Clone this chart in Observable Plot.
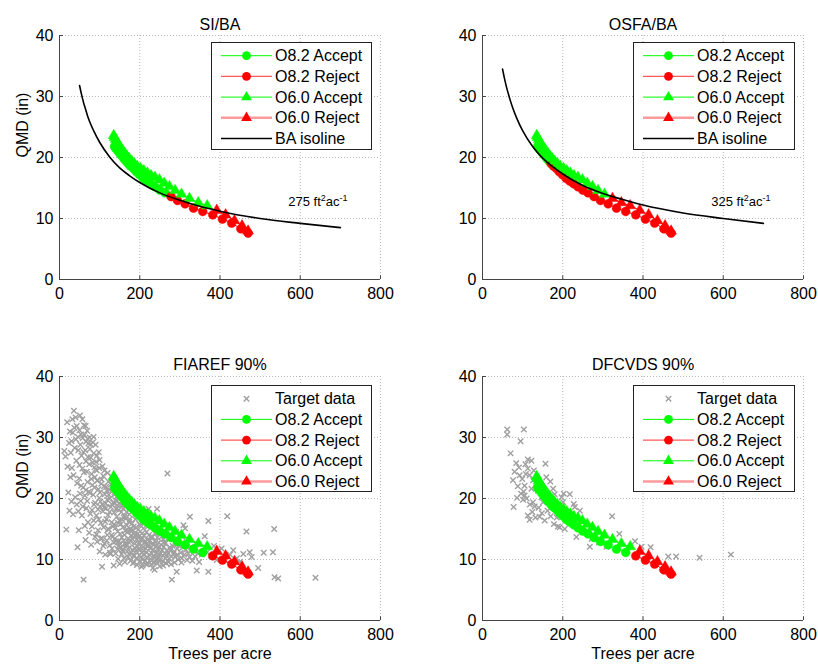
<!DOCTYPE html>
<html><head><meta charset="utf-8">
<script src="https://cdn.jsdelivr.net/npm/d3@7"></script>
<script src="https://cdn.jsdelivr.net/npm/@observablehq/plot@0.6"></script>
<style>
body{margin:0;background:#fff;}
#wrap{position:relative;width:818px;height:669px;background:#fff;font-family:"Liberation Sans",Arial,Helvetica,sans-serif;overflow:hidden;}
.panel{position:absolute;}
.legend{position:absolute;overflow:visible;}
</style></head><body><div id="wrap"></div>
<script>
// ---------- data ----------
const xTicks = [0, 200, 400, 600, 800];
const yTicks = [0, 10, 20, 30, 40];
const panelTitles = ["SI/BA", "OSFA/BA", "FIAREF 90%", "DFCVDS 90%"];
const xLabel = "Trees per acre";
const yLabel = "QMD (in)";

// O8.2 trajectory (circles)
const o82TPA = [137,140,143,147,151,155,160,165,171,177,184,191,199,208,217,227,238,250,263,278,294,313,334,357,382,406,429,452,470];
const o82QMD = [21.8,21.55,21.3,20.96,20.62,20.29,19.87,19.45,19.0,18.6,18.2,17.7,17.2,16.6,16.15,15.7,15.2,14.65,14.2,13.6,12.95,12.4,11.7,11.15,10.6,9.9,9.25,8.3,7.6];
// O6.0 trajectory (triangles)
const o60TPA = [135,137,140,143,146,150,154,158,163,168,174,180,187,194,202,210,219,228,238,249,261,274,288,304,324,346,368,392,414,436,455,470];
const o60QMD = [23.6,23.3,22.95,22.6,22.25,21.85,21.45,21.1,20.65,20.25,19.8,19.4,18.95,18.55,18.2,17.85,17.45,17.05,16.75,16.35,15.8,15.25,14.6,14.0,13.3,12.6,12.1,11.35,10.6,9.65,8.8,7.95];
// last accepted TPA per panel
const o82LastAccept = [263, 165, 357, 357];
const o60LastAccept = [368, 304, 368, 368];

// BA isolines (top panels)
const isoTPA = [50,55,60,65,70,75,85,100,125,150,175,200,250,300,350,400,500,600,700];
const iso275QMD = [31.8,30.3,29.0,27.9,26.8,25.9,24.4,22.5,20.1,18.3,17.0,15.9,14.2,13.0,12.0,11.2,10.0,9.2,8.5];
const iso325QMD = [34.5,32.9,31.5,30.3,29.2,28.2,26.5,24.4,21.8,19.9,18.5,17.3,15.4,14.1,13.1,12.2,10.9,10.0,9.2];
const isoLabelBA = ["275", "325"];
const isoLabelPos = [570, 12.7];

// Target data (bottom panels)
const fiaTarget = [
[15,26.9],[17,14.9],[19,32.5],[24,29.1],[28,27.5],[22,21.0],
[36,34.4],[40,33.3],[33,30.8],[38,28.3],[42,26.2],[34,17.4],[44,22.5],[41,29.7],[45,12.0],
[48,14.8],[50,31.2],[52,28.8],[55,27.0],[57,24.9],[49,23.3],[58,29.9],[53,19.6],[60,6.7],[56,17.2],[59,21.8],
[46,30.1],[61,32.0],[69,31.1],[75,30.0],[83,29.2],[90,28.8],[57,33.0],[50,25.5],[66,29.3],
[62,30.4],[64,27.9],[66,26.1],[68,24.4],[70,22.7],[63,20.5],[72,29.0],[67,18.4],[74,25.6],[71,16.1],[65,13.2],[73,21.1],
[76,28.1],[78,26.7],[80,24.0],[82,22.2],[84,20.6],[86,19.0],[77,17.5],[88,23.5],[81,15.4],[85,27.4],[89,13.7],[79,12.4],[87,25.1],
[91,26.0],[93,24.6],[95,23.0],[97,21.5],[99,20.1],[101,18.7],[92,17.2],[103,16.0],[96,14.8],[104,22.4],[94,12.9],[100,11.3],[98,27.6],[102,19.5],[106,8.8],
[107,25.3],[109,23.7],[111,22.0],[113,20.7],[115,19.2],[108,17.9],[117,16.6],[110,15.3],[119,14.0],[112,12.6],[116,18.4],[118,21.3],[114,10.8],[120,24.2],[106,13.5],
[122,22.8],[124,21.4],[126,20.0],[128,18.6],[121,17.3],[130,16.1],[123,14.9],[132,13.7],[125,12.3],[134,19.3],[127,10.9],[129,23.6],[133,15.4],[135,9.0],[131,11.8],
[137,21.0],[139,19.7],[141,18.3],[143,17.0],[136,15.8],[145,14.6],[138,13.4],[147,12.2],[140,11.0],[149,16.4],[142,20.3],[146,10.1],[144,18.9],[148,13.0],[150,9.3],
[152,19.0],[154,17.8],[156,16.5],[158,15.3],[151,14.2],[160,13.1],[153,12.0],[162,17.1],[155,10.9],[164,14.7],[157,11.6],[159,18.3],[161,10.2],[163,12.5],
[166,16.8],[168,15.6],[170,14.5],[172,13.4],[167,12.4],[174,17.4],[169,11.3],[176,15.0],[171,10.4],[178,13.9],[173,16.2],[175,12.0],[177,9.8],[179,14.6],
[181,15.9],[183,14.8],[185,13.7],[187,12.6],[182,11.6],[189,16.6],[184,10.6],[191,15.2],[186,9.6],[193,13.3],[188,11.9],[190,14.1],[192,10.1],[194,12.2],
[196,14.9],[198,13.8],[200,12.7],[197,11.7],[202,15.6],[199,10.7],[204,8.8],[206,14.3],[201,9.7],[208,12.0],[203,13.2],[205,11.1],[207,10.0],[209,15.1],
[211,13.9],[213,12.8],[215,11.8],[212,10.8],[217,14.5],[214,9.8],[219,13.2],[216,11.2],[221,12.3],[218,10.3],[223,14.0],[220,9.3],[222,18.3],
[226,13.1],[228,12.0],[230,11.0],[227,10.1],[232,13.7],[229,9.2],[234,11.6],[231,12.6],[236,10.4],[233,8.6],[237,8.3],[239,12.9],[238,14.3],
[241,12.2],[243,11.2],[245,10.3],[242,9.5],[247,12.8],[244,13.6],[249,10.8],[246,11.7],[251,9.8],[248,14.8],[243,18.3],[253,12.4],[250,8.9],
[256,11.5],[258,10.6],[260,12.1],[257,9.7],[262,11.0],[259,13.3],[264,10.2],[261,14.2],[266,9.4],[263,12.6],[269,24.1],[268,11.4],
[271,11.0],[273,10.1],[275,12.0],[272,9.6],[277,11.6],[274,13.4],[279,10.5],[276,14.1],[280,6.7],[282,12.2],[284,10.9],[278,9.2],
[286,11.3],[288,10.4],[290,12.5],[287,9.5],[292,10.7],[289,13.0],[294,11.8],[292,8.0],[296,10.0],[298,12.2],[291,14.5],
[302,11.1],[305,10.2],[308,12.0],[304,9.5],[309,15.6],[311,10.8],[313,15.1],[315,11.6],[318,9.9],[316,13.0],[321,11.0],
[325,17.0],[324,10.4],[328,12.1],[331,9.8],[335,11.4],[338,10.5],[342,8.2],[340,12.6],[345,11.0],[348,9.6],
[355,10.8],[362,13.8],[371,16.3],[371,8.0],[368,11.2],[378,10.6],[385,12.2],[392,9.9],[398,11.5],
[404,11.8],[418,17.1],[425,10.8],[433,11.5],[442,10.2],[449,9.6],[458,10.9],[466,14.6],[474,11.2],[479,10.4],[495,8.6],[509,11.1],[532,11.2],[535,15.0],[536,7.1],[545,6.9],[638,7.0],
[54,22.1],[58,18.7],[61,24.3],[63,15.5],[66,21.4],[69,19.6],[71,26.8],[74,14.4],[76,20.9],[79,23.2],[81,18.1],[83,25.9],[85,16.4],[87,21.8],[89,19.3],[90,24.8],
[92,14.1],[94,22.9],[96,18.2],[98,16.6],[99,25.0],[101,21.0],[103,13.4],[105,23.1],[107,19.0],[109,12.2],[111,18.5],[112,24.6],[114,16.2],[116,21.9],[118,13.1],
[119,19.8],[121,15.0],[123,20.6],[125,17.8],[126,11.1],[128,22.3],[130,14.0],[131,19.0],[133,21.9],[135,12.8],[136,17.7],[138,20.7],[140,15.2],[141,13.0],[143,19.6],
[145,11.7],[146,16.0],[148,18.1],[150,12.6],[151,20.1],[153,15.8],[155,13.6],[156,18.9],[158,11.3],[160,16.9],[162,14.0],[163,9.6],[165,12.1],[167,17.8],[169,14.9],
[171,12.9],[173,10.9],[175,16.6],[177,13.0],[179,11.1],[181,13.4],[183,9.4],[185,15.4],[187,10.6],[189,13.9],[191,11.4],[193,9.1],[195,14.2],[197,12.5],[199,15.8],
[201,11.6],[203,10.4],[205,13.6],[207,9.0],[210,11.4],[212,16.0],[214,13.0],[216,9.2],[218,12.2],[220,15.4],[224,10.8],[226,11.8],[228,13.6],[230,9.8],[234,12.4],
[236,9.5],[240,11.0],[244,10.0],[248,12.1],[252,11.0],[255,13.8],[258,9.0],[262,12.9],[267,10.8],
[26,31.0],[30,29.4],[32,33.0],[37,31.6],[43,31.9],[47,27.9],[51,33.6],[54,30.5],[60,27.6],[65,31.9],[70,29.8],[78,28.9],[85,30.1],[93,27.0],[100,26.3],
[27,23.5],[30,19.5],[31,25.0],[35,23.8],[39,20.2],[43,19.0],[47,17.9],[51,20.8],[25,18.0],[20,25.2],[12,27.8]
];
const dfcTarget = [
[61.6,31.3],[61.6,30.5],[103,31.3],[95,29.4],[70,27.4],[84,25.8],[91,25.1],[76,23.0],[77.5,18.6],[101,19.8],
[113,26.4],[122,26.2],[113,24.9],[117.5,23.8],[92.5,23.8],[99,23.2],[105,22.1],[102.5,21.1],[105,20.5],[122,21.6],
[126,23.0],[113,17.2],[117.5,16.5],[157,25.7],[159,23.5],[169,22.8],[142.5,17.0],[126,19.4],[130,18.7],[176,21.6],
[180,20.7],[197,20.2],[202.5,20.8],[217.5,20.7],[201,19.4],[227.5,19.1],[230,18.6],[188,15.4],[192.5,15.3],[234,13.7],
[242.5,18.0],[267.5,12.1],[309,12.1],[323,17.1],[341,14.2],[380,13.0],[396.5,12.1],[419,12.0],[463,10.5],[482.5,10.5],
[541,10.3],[619,10.8],[151,19.4],[138,21.3],[147,20.2],[110,20.0],[118,19.0],[124,17.8],[132,16.9],[140,18.5],
[148,17.6],[155,16.4],[162,18.0],[170,17.1],[178,15.8],[185,16.9],[205,15.0],[215,16.8],[250,14.5],[272,13.4],
[290,12.8],[88,22.0],[96,20.8],[108,24.0],[134,22.6],[80,24.4],[86,20.1],[107,25.6],[128,24.6],[145,22.4]
];
const targets = [null, null, fiaTarget, dfcTarget];

// ---------- style ----------
const GREEN = "#00ff00", RED = "#ff0000", GRAY = "#a0a0a0";
const FONT = "'Liberation Sans', Arial, Helvetica, sans-serif";

const layout = [
  {left:0,   top:0,   w:409, h:330, ml:59, mr:29, mt:35, mb:51, titleDy:-17},
  {left:409, top:0,   w:409, h:330, ml:73, mr:15, mt:35, mb:51, titleDy:-17},
  {left:0,   top:330, w:409, h:339, ml:59, mr:29, mt:46, mb:49, titleDy:-18},
  {left:409, top:330, w:409, h:339, ml:73, mr:15, mt:46, mb:49, titleDy:-18}
];
const legendPos = [
  {left:211, top:42,  w:161, h:108},
  {left:633, top:42,  w:162, h:108},
  {left:211, top:385, w:161, h:107},
  {left:633, top:385, w:162, h:107}
];

const wrap = document.getElementById("wrap");

function series(tpa, qmd, last){
  const all = tpa.map((t,i)=>({t, q:qmd[i]}));
  return [all.filter(d=>d.t<=last), all.filter(d=>d.t>last)];
}

panelTitles.forEach((title, p) => {
  const L = layout[p];
  const [o82A, o82R] = series(o82TPA, o82QMD, o82LastAccept[p]);
  const [o60A, o60R] = series(o60TPA, o60QMD, o60LastAccept[p]);
  const marks = [
    Plot.gridX(xTicks, {stroke:"#b8b8b8", strokeOpacity:1, strokeDasharray:"1,2", strokeWidth:1}),
    Plot.gridY(yTicks, {stroke:"#b8b8b8", strokeOpacity:1, strokeDasharray:"1,2", strokeWidth:1}),
    Plot.ruleX(xTicks, {y1:0, y2:0.6, stroke:"#444"}),
    Plot.ruleY(yTicks, {x1:0, x2:10, stroke:"#444"}),
    Plot.ruleX([0], {stroke:"#444", strokeWidth:1}),
    Plot.ruleY([0], {stroke:"#444", strokeWidth:1}),
    Plot.axisX(xTicks, {tickSize:0, tickPadding:8, fontSize:16, fill:"#000", label:null}),
    Plot.axisY(yTicks, {tickSize:0, tickPadding:6, fontSize:16, fill:"#000", label:null}),
    Plot.text([title], {text:d=>d, frameAnchor:"top", dy:L.titleDy, fontSize:16, fill:"#000"})
  ];
  if (p % 2 === 0) marks.push(Plot.text([yLabel], {text:d=>d, frameAnchor:"left", dx:-37, rotate:-90, fontSize:16, fill:"#000"}));
  if (p >= 2) marks.push(Plot.text([xLabel], {text:d=>d, frameAnchor:"bottom", dy:38, fontSize:16, fill:"#000"}));
  if (targets[p]) marks.push(Plot.dot(targets[p], {x:d=>d[0], y:d=>d[1], symbol:"times", r:2.6, stroke:GRAY, strokeWidth:1.4}));
  marks.push(
    Plot.line(o82A, {x:"t", y:"q", stroke:GREEN, strokeWidth:1}),
    Plot.dot(o82A, {x:"t", y:"q", symbol:"circle", r:4.4, fill:GREEN, stroke:GREEN, strokeWidth:0.5}),
    Plot.line(o82R, {x:"t", y:"q", stroke:RED, strokeWidth:1}),
    Plot.dot(o82R, {x:"t", y:"q", symbol:"circle", r:4.4, fill:RED, stroke:RED, strokeWidth:0.5}),
    Plot.line(o60A, {x:"t", y:"q", stroke:GREEN, strokeWidth:1}),
    Plot.dot(o60A, {x:"t", y:"q", symbol:"triangle", r:4.0, fill:GREEN, stroke:GREEN, strokeWidth:0.5}),
    Plot.line(o60R, {x:"t", y:"q", stroke:RED, strokeWidth:1}),
    Plot.dot(o60R, {x:"t", y:"q", symbol:"triangle", r:4.0, fill:RED, stroke:RED, strokeWidth:0.5})
  );
  if (p < 2) {
    const iso = p === 0 ? iso275QMD : iso325QMD;
    marks.push(Plot.line(isoTPA.map((t,i)=>({t, q:iso[i]})), {x:"t", y:"q", stroke:"#000", strokeWidth:1.6, curve:"monotone-x"}));
    marks.push(Plot.text([isoLabelBA[p] + " ft2ac-1"], {text:d=>d, x:isoLabelPos[0], y:isoLabelPos[1], textAnchor:"start", fontSize:13, fill:"#000"}));
  }
  const chart = Plot.plot({
    width:L.w, height:L.h,
    marginLeft:L.ml, marginRight:L.mr, marginTop:L.mt, marginBottom:L.mb,
    x:{domain:[0,800]}, y:{domain:[0,40]},
    style:{fontFamily:FONT, fontSize:"16px", background:"transparent", overflow:"visible", color:"#000"},
    marks
  });
  chart.classList.add("panel");
  chart.style.left = L.left + "px";
  chart.style.top = L.top + "px";
  wrap.appendChild(chart);
  // superscripts for the BA label
  d3.select(chart).selectAll("text").filter(function(){ return /ft2ac-1$/.test(this.textContent); })
    .each(function(){
      const t = d3.select(this);
      const ba = this.textContent.split(" ")[0];
      t.text(null);
      t.append("tspan").text(ba + " ft");
      t.append("tspan").attr("dy","-5").attr("font-size","9").text("2");
      t.append("tspan").attr("dy","5").text("ac");
      t.append("tspan").attr("dy","-5").attr("font-size","9").text("-1");
    });
});

// ---------- legends ----------
function drawLegend(pos, entries){
  const svg = d3.select(wrap).append("svg").attr("class","legend")
    .style("left", pos.left+"px").style("top", pos.top+"px")
    .attr("width", pos.w).attr("height", pos.h);
  svg.append("rect").attr("x",0.5).attr("y",0.5).attr("width",pos.w-1).attr("height",pos.h-1)
    .attr("fill","#fff").attr("stroke","#222").attr("stroke-width",1);
  entries.forEach((e,i)=>{
    const cy = 13.7 + i*20.7;
    const g = svg.append("g");
    if (e.line) g.append("line").attr("x1",10).attr("x2",61).attr("y1",cy).attr("y2",cy)
      .attr("stroke",e.line).attr("stroke-width",e.lw||1);
    if (e.marker === "circle") g.append("circle").attr("cx",35.5).attr("cy",cy).attr("r",4.4).attr("fill",e.color);
    if (e.marker === "triangle") g.append("path").attr("transform",`translate(35.5,${cy})`)
      .attr("d", d3.symbol(d3.symbolTriangle, Math.PI*16)()).attr("fill",e.color);
    if (e.marker === "times") g.append("path").attr("transform",`translate(35.5,${cy})`)
      .attr("d", d3.symbol(d3.symbolTimes, Math.PI*2.6*2.6)()).attr("fill","none").attr("stroke",GRAY).attr("stroke-width",1.4);
    g.append("text").attr("x",64).attr("y",cy).attr("dy","0.35em")
      .attr("font-family",FONT).attr("font-size",16).attr("fill","#000").text(e.label);
  });
}
const seriesLegend = [
  {label:"O8.2 Accept", line:GREEN, lw:1, marker:"circle", color:GREEN},
  {label:"O8.2 Reject", line:"#ff5a5a", lw:1.3, marker:"circle", color:RED},
  {label:"O6.0 Accept", line:GREEN, lw:1, marker:"triangle", color:GREEN},
  {label:"O6.0 Reject", line:"#ff9a9a", lw:2.5, marker:"triangle", color:RED}
];
const isoLegend = {label:"BA isoline", line:"#000", lw:1.6};
const targetLegend = {label:"Target data", marker:"times"};
legendPos.forEach((pos,p)=>{
  drawLegend(pos, p < 2 ? [...seriesLegend, isoLegend] : [targetLegend, ...seriesLegend]);
});
</script>
</body></html>
